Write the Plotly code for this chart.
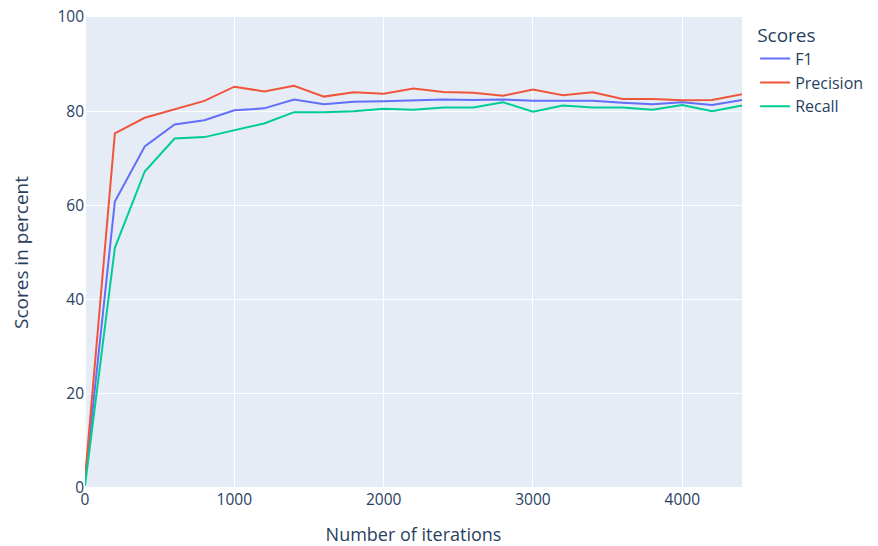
import plotly.graph_objects as go

iterations = list(range(0, 4401, 200))
f1 = [1.5, 60.8, 72.5, 77.2, 78.1, 80.2, 80.6, 82.5, 81.5, 82.0, 82.1, 82.3,
      82.5, 82.4, 82.5, 82.2, 82.2, 82.2, 81.8, 81.5, 81.9, 81.3, 82.4]
precision = [2.0, 75.3, 78.6, 80.4, 82.2, 85.2, 84.2, 85.4, 83.1, 84.0, 83.7, 84.8,
             84.1, 83.9, 83.3, 84.6, 83.4, 84.0, 82.6, 82.6, 82.3, 82.4, 83.6]
recall = [0.5, 51.0, 67.2, 74.2, 74.5, 75.9, 77.4, 79.8, 79.8, 80.0, 80.5, 80.3,
          80.8, 80.8, 81.9, 79.9, 81.2, 80.8, 80.8, 80.3, 81.3, 80.0, 81.2]

series = [("F1", f1, "#636efa"), ("Precision", precision, "#EF553B"), ("Recall", recall, "#00cc96")]

fig = go.Figure()
for name, vals, color in series:
    fig.add_trace(go.Scatter(x=iterations, y=vals, mode="lines", name=name,
                             line=dict(color=color, width=2)))

fig.update_layout(
    template="plotly",
    width=870, height=538,
    font=dict(family="Open Sans", size=15.5),
    margin=dict(l=77, r=136, t=9, b=58),
    legend=dict(title=dict(text="Scores", font=dict(size=19)), font=dict(size=16)),
    xaxis=dict(title=dict(text="Number of iterations", font=dict(size=18), standoff=28),
               range=[0, 4400], dtick=1000, automargin=False, tickfont=dict(size=15.5),
               ticklabeloverflow="allow"),
    yaxis=dict(title=dict(text="Scores in percent", font=dict(size=19), standoff=37),
               range=[0, 100], dtick=20, automargin=False, tickfont=dict(size=15.5),
               ticklabeloverflow="allow"),
)
fig.write_html("out.html")
